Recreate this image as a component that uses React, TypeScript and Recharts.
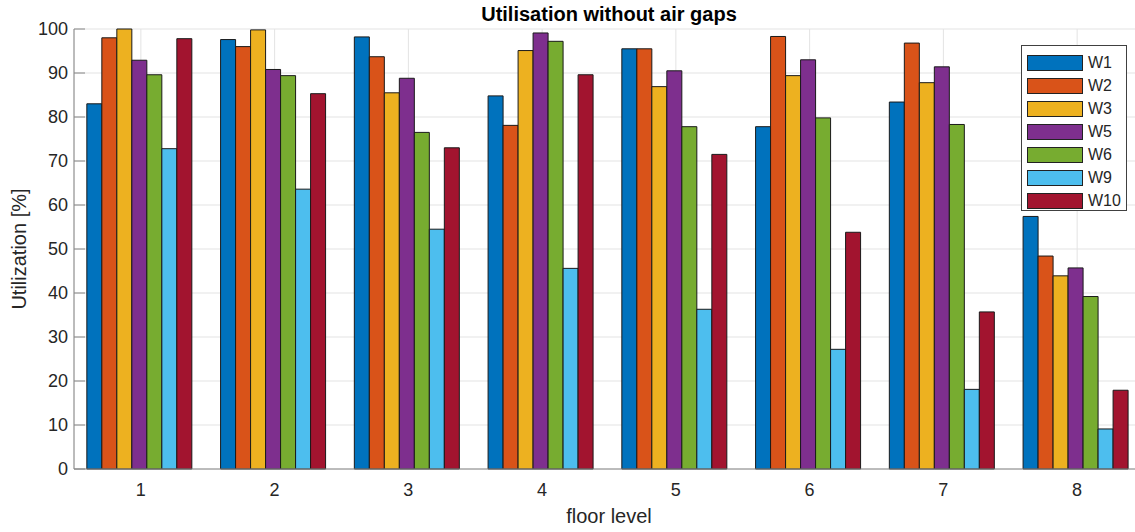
import { BarChart, Bar, XAxis, YAxis, CartesianGrid, Legend } from 'recharts';

const floors = ['1', '2', '3', '4', '5', '6', '7', '8'];

const w1 = [83.0, 97.6, 98.2, 84.8, 95.5, 77.8, 83.4, 57.4];
const w2 = [98.0, 96.0, 93.7, 78.1, 95.5, 98.3, 96.8, 48.4];
const w3 = [100.0, 99.8, 85.5, 95.1, 86.9, 89.4, 87.8, 43.9];
const w5 = [92.9, 90.8, 88.8, 99.1, 90.5, 93.0, 91.4, 45.7];
const w6 = [89.6, 89.4, 76.5, 97.2, 77.8, 79.8, 78.3, 39.2];
const w9 = [72.8, 63.6, 54.5, 45.6, 36.3, 27.2, 18.1, 9.1];
const w10 = [97.8, 85.3, 73.0, 89.6, 71.5, 53.8, 35.7, 17.9];

const yTicks = [0, 10, 20, 30, 40, 50, 60, 70, 80, 90, 100];

const series = [
  { key: 'W1', values: w1, color: '#0072BD' },
  { key: 'W2', values: w2, color: '#D95319' },
  { key: 'W3', values: w3, color: '#EDB120' },
  { key: 'W5', values: w5, color: '#7E2F8E' },
  { key: 'W6', values: w6, color: '#77AC30' },
  { key: 'W9', values: w9, color: '#4DBEEE' },
  { key: 'W10', values: w10, color: '#A2142F' },
];

const data = floors.map((floor, i) => {
  const row: Record<string, string | number> = { floor };
  series.forEach((s) => {
    row[s.key] = s.values[i];
  });
  return row;
});

const font = '"Liberation Sans", Arial, sans-serif';
const textColor = '#262626';
const axisColor = '#868686';

// legend keeps the series order (recharts would sort W10 after W1)
function LegendBox() {
  return (
    <div
      style={{
        border: '1px solid #404040',
        background: '#fff',
        padding: '5px 0 0 5px',
        boxSizing: 'border-box',
        width: 106,
        height: 166,
        fontFamily: font,
      }}
    >
      {series.map((s) => (
        <div key={s.key} style={{ display: 'flex', alignItems: 'center', height: 23 }}>
          <div
            style={{
              width: 56,
              height: 16,
              boxSizing: 'border-box',
              border: '1px solid #222',
              background: s.color,
            }}
          />
          <span style={{ marginLeft: 5, fontSize: 16, color: textColor }}>{s.key}</span>
        </div>
      ))}
    </div>
  );
}

export default function App() {
  return (
    <div
      style={{
        position: 'fixed',
        left: 0,
        top: 0,
        width: 1135,
        height: 532,
        overflow: 'hidden',
        background: '#fff',
        fontFamily: font,
      }}
    >
      <div
        style={{
          position: 'absolute',
          left: 309,
          width: 600,
          top: 4,
          lineHeight: '20px',
          textAlign: 'center',
          fontSize: 20,
          fontWeight: 'bold',
          color: '#000',
        }}
      >
        Utilisation without air gaps
      </div>
      <div
        style={{
          position: 'absolute',
          left: 19,
          top: 249,
          lineHeight: '20px',
          fontSize: 20,
          color: textColor,
          whiteSpace: 'nowrap',
          transform: 'translate(-50%, -50%) rotate(-90deg)',
        }}
      >
        Utilization [%]
      </div>
      <div
        style={{
          position: 'absolute',
          left: 309,
          width: 600,
          top: 506,
          lineHeight: '20px',
          textAlign: 'center',
          fontSize: 20,
          color: textColor,
        }}
      >
        floor level
      </div>
      <div style={{ position: 'absolute', left: 0, top: 0 }}>
        <BarChart
          width={1160}
          height={532}
          data={data}
          margin={{ top: 29, right: 16, bottom: 13, left: 0 }}
          barCategoryGap="9.6%"
          barGap={0}
        >
          <CartesianGrid stroke="#e3e3e3" strokeWidth={1} />
          <XAxis
            dataKey="floor"
            height={50}
            tickLine={false}
            tickSize={0}
            tickMargin={14}
            axisLine={{ stroke: axisColor }}
            tick={{ fontSize: 18, fill: textColor, fontFamily: font }}
          />
          <YAxis
            width={74}
            domain={[0, 100]}
            ticks={yTicks}
            interval={0}
            tickSize={-11}
            tickMargin={17}
            axisLine={{ stroke: axisColor }}
            tickLine={{ stroke: axisColor }}
            tick={{ fontSize: 18, fill: textColor, fontFamily: font }}
          />
          <Legend
            layout="vertical"
            align="center"
            verticalAlign="middle"
            content={<LegendBox />}
            wrapperStyle={{ left: 1021, top: 45, width: 106, height: 166 }}
          />
          {series.map((s) => (
            <Bar
              key={s.key}
              dataKey={s.key}
              name={s.key}
              fill={s.color}
              stroke="#1a1a1a"
              strokeWidth={1}
              isAnimationActive={false}
            />
          ))}
        </BarChart>
      </div>
    </div>
  );
}
